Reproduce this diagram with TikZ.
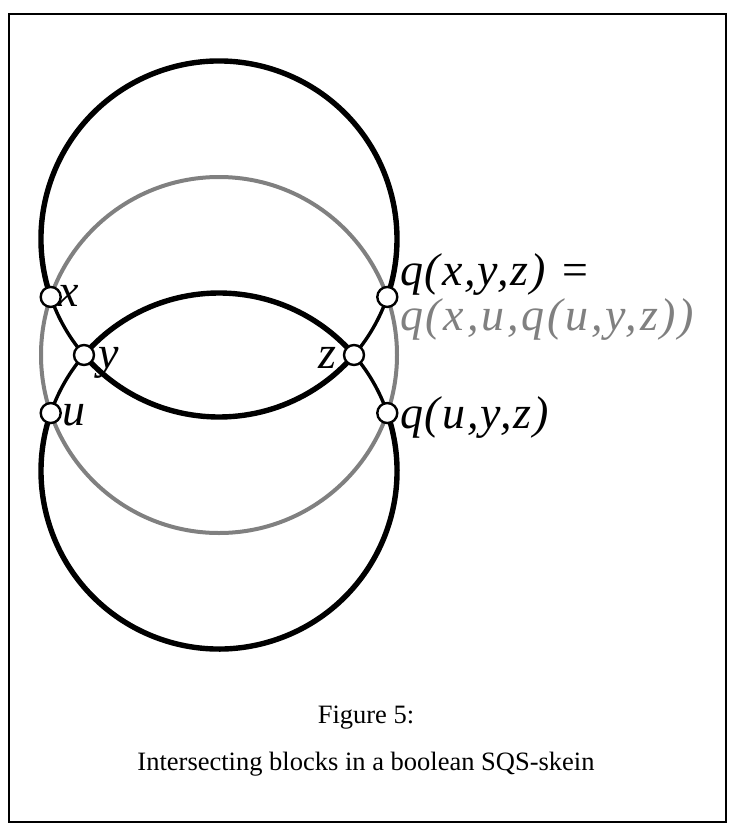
\documentclass[tikz,border=0pt]{standalone}
\usepackage{fontspec}
\setmainfont{Liberation Serif}
\newfontfamily\lblfont[LetterSpace=4]{Liberation Serif}
\newfontfamily\lblwide[LetterSpace=6]{Liberation Serif}
\usetikzlibrary{calc}
\begin{document}
\begin{tikzpicture}[x=1pt,y=-1pt,
  blk/.style={line width=5.4pt},
  blkthin/.style={line width=3.4pt},
  gry/.style={line width=4pt, draw=black!50},
  pt/.style={circle, draw, line width=2.4pt, fill=white, minimum size=20pt, inner sep=0pt},
  lbl/.style={font=\fontsize{46}{50}\lblfont\itshape, inner sep=0pt},
  lblw/.style={font=\fontsize{46}{50}\lblwide\itshape, inner sep=0pt},
  captext/.style={font=\fontsize{26.5}{30}\selectfont, inner sep=0pt}]
\useasboundingbox (0,0) rectangle (730,825);
\draw[line width=2.8pt] (9,14) rectangle (726,822);
% circle centres
\coordinate (C1) at (219,239);
\coordinate (C2) at (219,355);
\coordinate (C3) at (219,471);
% grey circle
\draw[gry] (C2) circle[radius=178];
% crossing points
\coordinate (px) at ($(C1)+(161:178)$);
\coordinate (py) at ($(C1)+(139.33:178)$);
\coordinate (pz) at ($(C1)+(40.67:178)$);
\coordinate (pq) at ($(C1)+(19:178)$);
\coordinate (pu) at ($(C3)+(199:178)$);
\coordinate (pr) at ($(C3)+(341:178)$);
% top black circle
\draw[blk] (px) arc[start angle=161, end angle=379, radius=178];
\draw[blkthin] (pq) arc[start angle=19, end angle=40.67, radius=178];
\draw[blk] (pz) arc[start angle=40.67, end angle=139.33, radius=178];
\draw[blkthin] (py) arc[start angle=139.33, end angle=161, radius=178];
% bottom black circle
\draw[blk] (pr) arc[start angle=341, end angle=559, radius=178];
\draw[blkthin] (pu) arc[start angle=199, end angle=220.67, radius=178];
\draw[blk] (py) arc[start angle=220.67, end angle=319.33, radius=178];
\draw[blkthin] (pz) arc[start angle=319.33, end angle=341, radius=178];
% points
\node[pt] (x) at (px) {};
\node[pt] (y) at (py) {};
\node[pt] (z) at (pz) {};
\node[pt] (u) at (pu) {};
\node[pt] (qxyz) at (pq) {};
\node[pt] (quyz) at (pr) {};
% labels
\node[lbl, anchor=base west] (lx) at (58,306) {x};
\node[lbl, anchor=base west] (ly) at (98,368) {y};
\node[lbl, anchor=base east] (lz) at (337,368) {z};
\node[lbl, anchor=base west] (lu) at (62,425) {u};
\node[lbl, anchor=base west] (l1) at (400,285) {q(x,y,z) =};
\node[lblw, anchor=base west, text=black!50] (l2) at (400,330) {q(x,u,q(u,y,z))};
\node[lbl, anchor=base west] (l3) at (400,428) {q(u,y,z)};
% caption
\node[captext, anchor=base] (c1) at (366,723) {Figure 5:};
\node[captext, anchor=base] (c2) at (366,770) {Intersecting blocks in a boolean SQS-skein};
\end{tikzpicture}
\end{document}
